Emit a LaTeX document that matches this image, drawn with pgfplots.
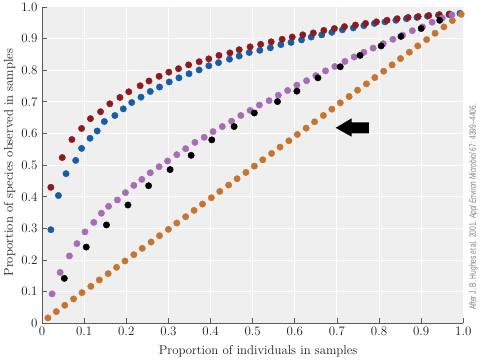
\documentclass[border=0pt]{standalone}
\usepackage{pgfplots}
\pgfplotsset{compat=1.18}
\usepackage{graphicx}
\usepackage{fontspec}
\newfontfamily\sidefont{Liberation Sans}
\definecolor{bggray}{RGB}{239,239,239}
\definecolor{cred}{RGB}{140,26,30}
\definecolor{cblue}{RGB}{22,92,168}
\definecolor{cpurple}{RGB}{168,108,182}
\definecolor{corange}{RGB}{200,116,46}
\definecolor{axgray}{RGB}{90,90,90}
\begin{document}
\begin{tikzpicture}
\path[use as bounding box] (-42bp,-37.7bp) rectangle (439bp,323.3bp);
\begin{axis}[
  at={(0,0)}, anchor=south west,
  scale only axis, width=421.3bp, height=316.3bp,
  xmin=0, xmax=1, ymin=0, ymax=1,
  clip=false,
  axis x line*=bottom, axis y line*=left,
  axis background/.style={fill=bggray},
  grid=major, major grid style={white, line width=1pt},
  xtick={0,0.1,0.2,0.3,0.4,0.5,0.6,0.7,0.8,0.9,1},
  ytick={0,0.1,0.2,0.3,0.4,0.5,0.6,0.7,0.8,0.9,1},
  xticklabels={0,0.1,0.2,0.3,0.4,0.5,0.6,0.7,0.8,0.9,1.0},
  yticklabels={0,0.1,0.2,0.3,0.4,0.5,0.6,0.7,0.8,0.9,1.0},
  tick align=inside, major tick length=5bp,
  tick style={axgray, line width=0.8pt},
  axis line style={axgray, line width=0.8pt},
  /pgf/number format/assume math mode=true,
  tick label style={font=\fontsize{13}{14}\selectfont, text=black!90},
  xticklabel style={yshift=0bp},
  yticklabel style={xshift=-1bp},
  label style={font=\fontsize{12.8}{14}\selectfont, text=black!90},
  xlabel={Proportion of individuals in samples},
  ylabel={Proportion of species observed in samples},
  xlabel style={at={(axis description cs:0.513,-0.0898)}, anchor=center},
  ylabel style={at={(axis description cs:-0.0771,0.508)}, anchor=center},
  every axis plot/.append style={only marks, mark=*, mark size=3.2bp},
]
% blue
\addplot[cblue, mark options={draw=cblue, fill=cblue}] coordinates {
(0.021,0.296)(0.039,0.404)(0.057,0.473)(0.080,0.515)(0.094,0.553)(0.114,0.585)
(0.131,0.608)(0.148,0.638)(0.173,0.657)(0.193,0.678)(0.213,0.698)(0.235,0.715)
(0.257,0.733)(0.279,0.747)(0.302,0.763)(0.325,0.776)(0.349,0.789)(0.373,0.801)
(0.396,0.814)(0.419,0.824)(0.445,0.835)(0.468,0.845)(0.492,0.856)(0.517,0.863)
(0.542,0.871)(0.567,0.881)(0.591,0.888)(0.616,0.896)(0.639,0.905)(0.664,0.912)
(0.688,0.920)(0.713,0.928)(0.739,0.934)(0.764,0.941)(0.789,0.948)(0.814,0.953)
(0.840,0.958)(0.865,0.963)(0.890,0.967)(0.915,0.971)(0.941,0.974)(0.966,0.976)
(0.992,0.980)};
% red
\addplot[cred, mark options={draw=cred, fill=cred}] coordinates {
(0.021,0.430)(0.048,0.524)(0.071,0.581)(0.094,0.616)(0.115,0.647)(0.139,0.669)
(0.161,0.694)(0.185,0.714)(0.206,0.732)(0.233,0.751)(0.254,0.766)(0.278,0.781)
(0.301,0.794)(0.324,0.805)(0.348,0.817)(0.373,0.827)(0.396,0.836)(0.420,0.847)
(0.446,0.855)(0.468,0.865)(0.494,0.874)(0.519,0.882)(0.544,0.890)(0.570,0.898)
(0.594,0.905)(0.619,0.912)(0.644,0.918)(0.669,0.926)(0.694,0.932)(0.718,0.938)
(0.744,0.943)(0.768,0.948)(0.794,0.953)(0.819,0.958)(0.843,0.963)(0.869,0.967)
(0.893,0.970)(0.918,0.973)(0.943,0.976)(0.967,0.978)};
% orange
\addplot[corange, mark options={draw=corange, fill=corange}] coordinates {
(0.014,0.017)(0.034,0.037)(0.054,0.057)(0.075,0.077)(0.095,0.097)(0.116,0.117)
(0.136,0.137)(0.157,0.157)(0.177,0.177)(0.197,0.197)(0.218,0.217)(0.238,0.237)
(0.259,0.257)(0.279,0.277)(0.300,0.297)(0.320,0.317)(0.341,0.337)(0.361,0.357)
(0.381,0.377)(0.402,0.397)(0.422,0.417)(0.443,0.437)(0.463,0.457)(0.484,0.477)
(0.504,0.497)(0.524,0.517)(0.545,0.537)(0.565,0.557)(0.586,0.577)(0.606,0.597)
(0.627,0.617)(0.647,0.637)(0.668,0.657)(0.688,0.677)(0.708,0.697)(0.729,0.717)
(0.749,0.737)(0.770,0.757)(0.790,0.777)(0.811,0.797)(0.831,0.817)(0.851,0.837)
(0.872,0.857)(0.892,0.877)(0.913,0.897)(0.933,0.917)(0.954,0.937)(0.974,0.957)
(0.995,0.977)};
% purple
\addplot[cpurple, mark options={draw=cpurple, fill=cpurple}] coordinates {
(0.024,0.093)(0.043,0.161)(0.065,0.213)(0.083,0.252)(0.102,0.289)(0.123,0.319)
(0.141,0.348)(0.158,0.370)(0.179,0.390)(0.198,0.413)(0.218,0.436)(0.237,0.455)
(0.257,0.476)(0.278,0.495)(0.298,0.513)(0.320,0.533)(0.341,0.552)(0.363,0.572)
(0.385,0.588)(0.406,0.606)(0.428,0.622)(0.450,0.639)(0.472,0.657)(0.494,0.673)
(0.516,0.690)(0.539,0.704)(0.561,0.721)(0.583,0.736)(0.605,0.753)(0.628,0.767)
(0.650,0.783)(0.673,0.798)(0.695,0.812)(0.719,0.828)(0.741,0.842)(0.764,0.857)
(0.786,0.870)(0.810,0.884)(0.833,0.898)(0.856,0.911)(0.879,0.925)(0.903,0.937)
(0.926,0.952)(0.950,0.965)(0.973,0.975)};
% black
\addplot[black, mark options={draw=black, fill=black}] coordinates {
(0.053,0.142)(0.105,0.241)(0.153,0.311)(0.204,0.374)(0.253,0.435)(0.304,0.486)
(0.354,0.531)(0.403,0.580)(0.456,0.622)(0.504,0.665)(0.559,0.701)(0.605,0.734)
(0.655,0.776)(0.708,0.811)(0.755,0.847)(0.805,0.877)(0.852,0.907)(0.900,0.932)
(0.944,0.958)};
% arrow
\fill[black] (axis cs:0.697,0.618) -- (axis cs:0.735,0.648) -- (axis cs:0.735,0.6355)
  -- (axis cs:0.776,0.6355) -- (axis cs:0.776,0.6007) -- (axis cs:0.735,0.6007)
  -- (axis cs:0.735,0.590) -- cycle;
% source note
\node[rotate=90, anchor=center, text=black!50, inner sep=0pt] at (axis cs:1.024,0.368)
  {\scalebox{0.72}[1]{\sidefont\fontsize{9.2}{10}\selectfont After J. B. Hughes et al. 2001. \emph{Appl Environ Microbiol} 67: 4399--4406.}};
\end{axis}
\end{tikzpicture}
\end{document}
